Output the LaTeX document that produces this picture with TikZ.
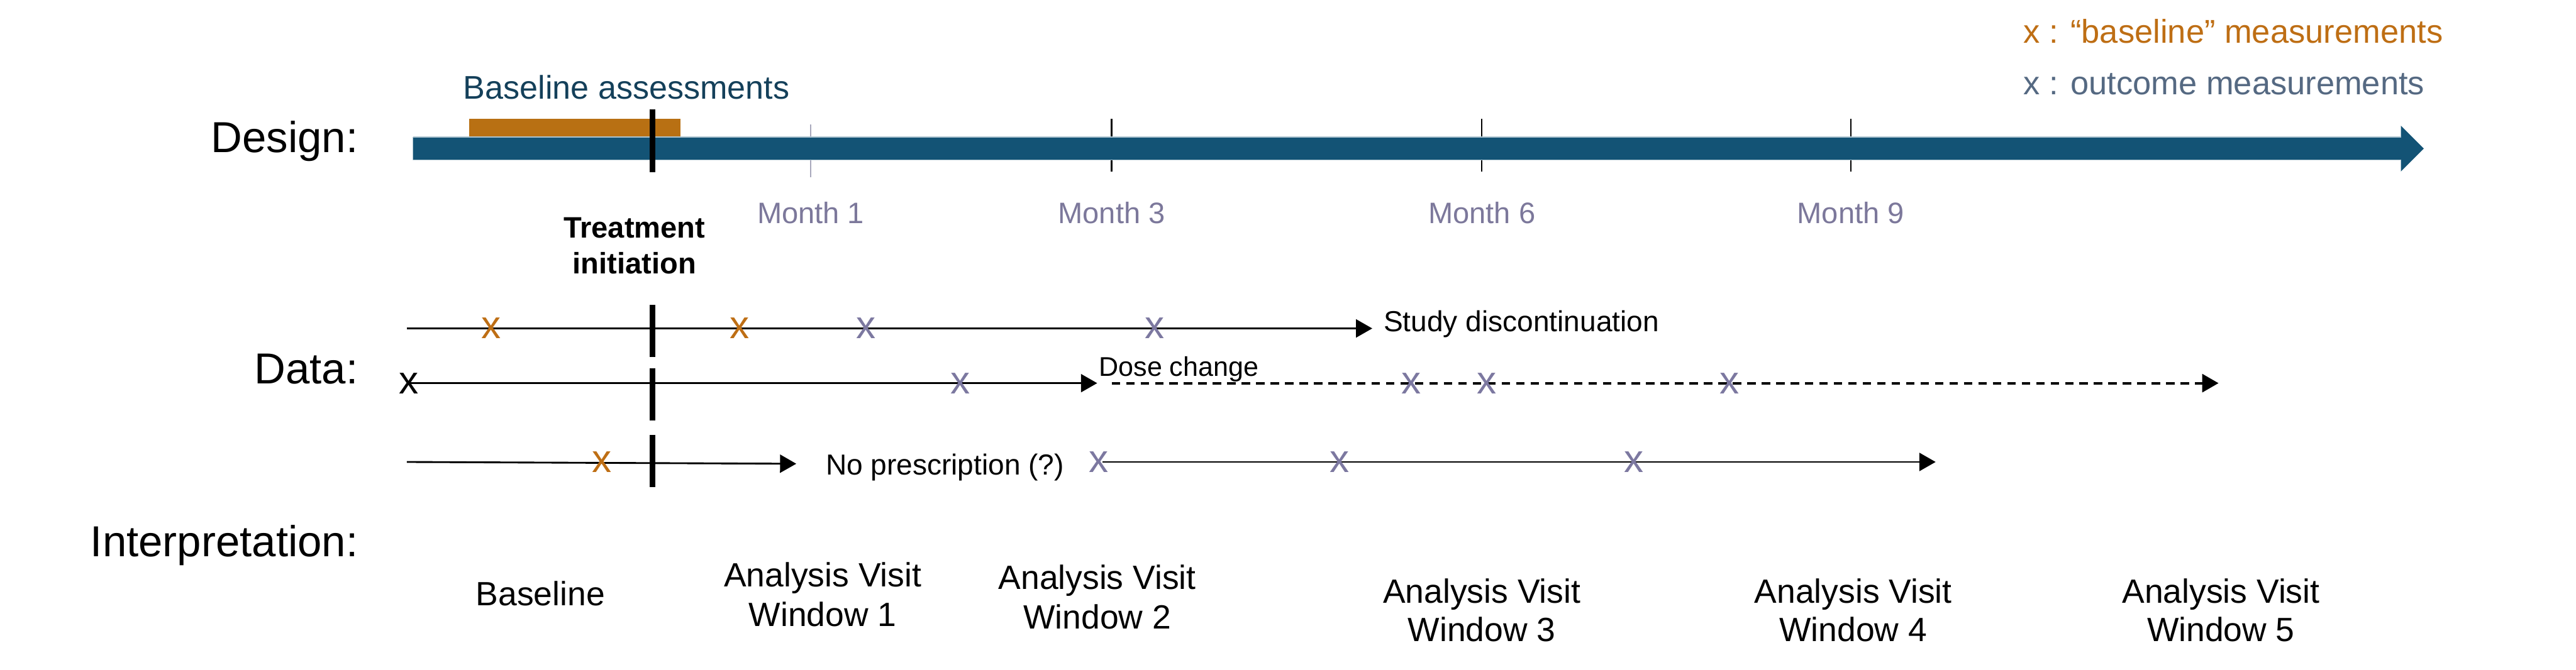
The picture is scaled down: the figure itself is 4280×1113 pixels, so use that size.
\documentclass[tikz,border=0pt]{standalone}
\usepackage{fontspec}
\setmainfont{Liberation Sans}
\usetikzlibrary{arrows.meta}
\definecolor{barblue}{HTML}{135375}
\definecolor{barorange}{HTML}{B87013}
\definecolor{titleteal}{HTML}{14405A}
\definecolor{monthc}{HTML}{7C789B}
\definecolor{markorange}{HTML}{BE6E14}
\definecolor{markpurple}{HTML}{7C78A0}
\definecolor{legslate}{HTML}{556982}
\definecolor{tickgray}{HTML}{A8A8BC}
\begin{document}
\begin{tikzpicture}[x=0.1mm,y=-0.1mm,
  every node/.style={inner sep=0pt, outer sep=0pt},
  biglbl/.style={font=\fontsize{20.5pt}{24pt}\selectfont, anchor=base east},
  monthlbl/.style={text=monthc, font=\fontsize{14pt}{17pt}\selectfont, anchor=base},
  treat/.style={font=\bfseries\fontsize{14pt}{17pt}\selectfont, anchor=base},
  evt/.style={font=\fontsize{13.7pt}{16pt}\selectfont, anchor=base west},
  legend/.style={font=\fontsize{15.6pt}{18pt}\selectfont, anchor=base west},
  interp/.style={font=\fontsize{15.9pt}{19pt}\selectfont, anchor=base},
  mk/.style={font=\fontsize{18.5pt}{22pt}\selectfont, anchor=center},
  omark/.style={mk, text=markorange},
  pmark/.style={mk, text=markpurple},
  kmark/.style={mk, text=black},
  dline/.style={line width=0.3mm, -{Triangle[length=2.7mm,width=3mm]}},
  ddash/.style={line width=0.4mm, dash pattern=on 1.4mm off 1mm, -{Triangle[length=2.7mm,width=3mm]}},
  tinit/.style={line width=0.93mm, black},
  majtick/.style={line width=0.25mm, black},
  mintick/.style={line width=0.2mm, tickgray}
]
\useasboundingbox (0,0) rectangle (4280,1113);

% ---------- Legend ----------
\node[legend, text=markorange] (leg1) at (3362,72) {x : “baseline” measurements};
\node[legend, text=legslate] (leg2) at (3362,157) {x : outcome measurements};

% ---------- Design ----------
\node[biglbl] (design) at (595,253) {Design:};
\node[anchor=base west, text=titleteal, font=\fontsize{15.5pt}{18pt}\selectfont] (bassess) at (770,165) {Baseline assessments};

% month ticks (behind bar)
\coordinate (t1a) at (1347,207); \coordinate (t1b) at (1347,295);
\coordinate (t3a) at (1847,198); \coordinate (t3b) at (1847,285);
\coordinate (t6a) at (2462,198); \coordinate (t6b) at (2462,285);
\coordinate (t9a) at (3075,198); \coordinate (t9b) at (3075,285);
\draw[mintick] (t1a) -- (t1b);
\draw[majtick] (t3a) -- (t3b);
\draw[majtick] (t6a) -- (t6b);
\draw[majtick] (t9a) -- (t9b);

% orange baseline-assessment block
\fill[barorange] (780,197) rectangle (1131,229);
% timeline bar with arrow head
\fill[barblue] (686,228) -- (3989,228) -- (3989,209) -- (4027,247) -- (3989,285) -- (3989,266) -- (686,266) -- cycle;
\draw[line width=0.15mm, color=barblue!35] (686,228) -- (3989,228);
\draw[line width=0.15mm, color=barblue!35] (686,266) -- (3989,266);
% treatment initiation line
\coordinate (tia) at (1084,182); \coordinate (tib) at (1084,286);
\draw[tinit] (tia) -- (tib);

\node[monthlbl] (m1) at (1347,371) {Month 1};
\node[monthlbl] (m3) at (1847,371) {Month 3};
\node[monthlbl] (m6) at (2462,371) {Month 6};
\node[monthlbl] (m9) at (3075,371) {Month 9};

\node[treat] (treat1) at (1054,395) {Treatment};
\node[treat] (treat2) at (1054,455) {initiation};

% ---------- Data ----------
\node[biglbl] (data) at (595,638) {Data:};

% row 1
\coordinate (r1s) at (676,546); \coordinate (r1e) at (2280,546);
\draw[dline] (r1s) -- (r1e);
\node[evt] (studydisc) at (2299,551) {Study discontinuation};
% row 2
\coordinate (r2s) at (676,637); \coordinate (r2e) at (1823,637);
\coordinate (r2ds) at (1847,637); \coordinate (r2de) at (3686,637);
\draw[dline] (r2s) -- (r2e);
\draw[ddash] (r2ds) -- (r2de);
\node[anchor=base west, font=\fontsize{12.8pt}{15pt}\selectfont] (dose) at (1826,625) {Dose change};
% row 3
\coordinate (r3s) at (676,768); \coordinate (r3e) at (1323,771);
\coordinate (r3bs) at (1832,768); \coordinate (r3be) at (3216,768);
\draw[dline] (r3s) -- (r3e);
\draw[dline] (r3bs) -- (r3be);
\node[evt] (nopresc) at (1372,789) {No prescription (?)};

% treatment initiation segments
\draw[tinit] (1084,507) -- (1084,594);
\draw[tinit] (1084,612) -- (1084,699);
\draw[tinit] (1084,723) -- (1084,810);

% marks row 1
\node[omark] (x11) at (816,546) {x};
\node[omark] (x12) at (1229,546) {x};
\node[pmark] (x13) at (1439,546) {x};
\node[pmark] (x14) at (1919,546) {x};
% marks row 2
\node[kmark] (x21) at (679,637) {x};
\node[pmark] (x22) at (1596,637) {x};
\node[pmark] (x23) at (2345,637) {x};
\node[pmark] (x24) at (2470,637) {x};
\node[pmark] (x25) at (2874,637) {x};
% marks row 3
\node[omark] (x31) at (1000,768) {x};
\node[pmark] (x32) at (1826,768) {x};
\node[pmark] (x33) at (2226,768) {x};
\node[pmark] (x34) at (2715,768) {x};

% ---------- Interpretation ----------
\node[biglbl] (interp) at (595,925) {Interpretation:};
\node[interp] (bl) at (898,1007) {Baseline};
\node[interp] (w1a) at (1367,975) {Analysis Visit};
\node[interp] (w1b) at (1367,1041) {Window 1};
\node[interp] (w2a) at (1823,980) {Analysis Visit};
\node[interp] (w2b) at (1823,1045) {Window 2};
\node[interp] (w3a) at (2462,1003) {Analysis Visit};
\node[interp] (w3b) at (2462,1066) {Window 3};
\node[interp] (w4a) at (3079,1003) {Analysis Visit};
\node[interp] (w4b) at (3079,1066) {Window 4};
\node[interp] (w5a) at (3690,1003) {Analysis Visit};
\node[interp] (w5b) at (3690,1066) {Window 5};
\end{tikzpicture}
\end{document}
